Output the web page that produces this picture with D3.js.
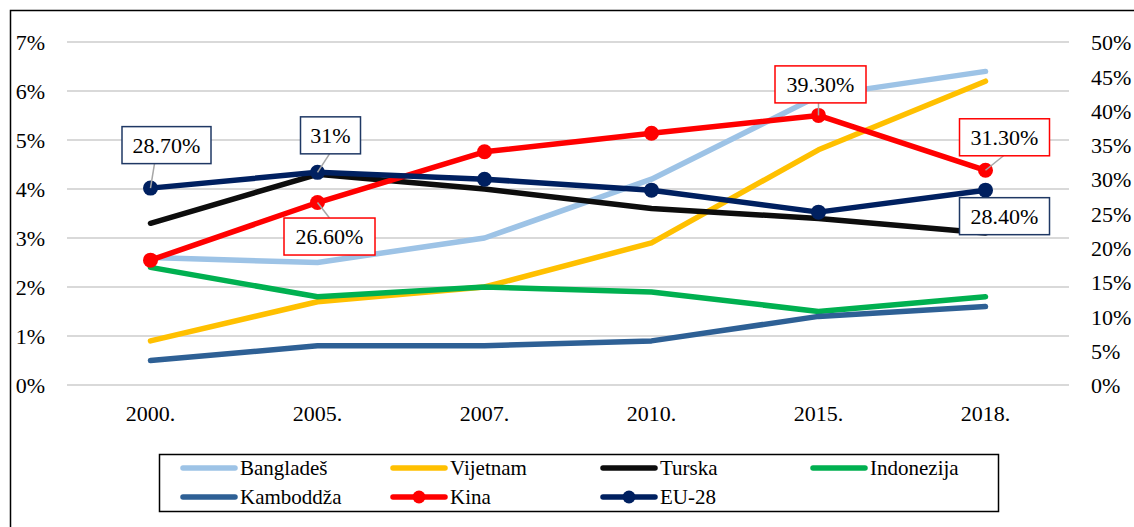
<!DOCTYPE html>
<html><head><meta charset="utf-8">
<script src="https://cdn.jsdelivr.net/npm/d3@7/dist/d3.min.js"></script>
<style>body{margin:0;background:#fff}svg{display:block}</style>
</head><body><svg id="c" width="1134" height="527"></svg>
<script>
const years = ["2000.","2005.","2007.","2010.","2015.","2018."];
const leftTicks = [0,0.01,0.02,0.03,0.04,0.05,0.06,0.07];
const rightTicks = [0,0.05,0.10,0.15,0.20,0.25,0.30,0.35,0.40,0.45,0.50];
const bangladesh = [2.6,2.5,3.0,4.2,5.9,6.4];
const vijetnam = [0.9,1.7,2.0,2.9,4.8,6.2];
const turska = [3.3,4.3,4.0,3.6,3.4,3.1];
const indonezija = [2.4,1.8,2.0,1.9,1.5,1.8];
const kambodza = [0.5,0.8,0.8,0.9,1.4,1.6];
const kina = [18.2,26.6,34.0,36.7,39.3,31.3];
const eu28 = [28.7,31.0,30.0,28.4,25.2,28.4];
const kinaLabels = [null,"26.60%",null,null,"39.30%","31.30%"];
const euLabels = ["28.70%","31%",null,null,null,"28.40%"];

const FONT = "'Liberation Serif', 'Times New Roman', serif";
const series = [
  {name:"Bangladeš", values:bangladesh, color:"#9dc3e6", axis:"L", marker:false},
  {name:"Vijetnam", values:vijetnam, color:"#ffc000", axis:"L", marker:false},
  {name:"Turska", values:turska, color:"#0d0d0d", axis:"L", marker:false},
  {name:"Indonezija", values:indonezija, color:"#00b050", axis:"L", marker:false},
  {name:"Kamboddža", values:kambodza, color:"#2e6095", axis:"L", marker:false},
  {name:"Kina", values:kina, color:"#ff0000", axis:"R", marker:true, labels:kinaLabels},
  {name:"EU-28", values:eu28, color:"#002060", axis:"R", marker:true, labels:euLabels}
];

const svg = d3.select("#c");
svg.append("rect").attr("x",10.5).attr("y",10.5).attr("width",1130).attr("height",530)
  .attr("fill","none").attr("stroke","#000").attr("stroke-width",1.5);

const x = d3.scaleBand().domain(years).range([67,1069]).padding(0);
const cx = d => x(d)+x.bandwidth()/2;
const yL = d3.scaleLinear().domain([0,0.07]).range([385,42]);
const yR = d3.scaleLinear().domain([0,0.5]).range([385,42]);

svg.append("g").selectAll("line").data(leftTicks).join("line")
  .attr("x1",67).attr("x2",1069).attr("y1",d=>yL(d)).attr("y2",d=>yL(d))
  .attr("stroke","#d9d9d9").attr("stroke-width",2);

const fmt = d3.format(".0%");
function styleAxis(g, dy){
  g.attr("font-family",null);
  g.select(".domain").remove();
  g.selectAll("text").attr("font-size",22).attr("fill","#000").style("font-family",FONT).attr("dy",dy);
}
styleAxis(svg.append("g").attr("transform","translate(45,0)")
  .call(d3.axisLeft(yL).tickValues(leftTicks).tickFormat(fmt).tickSize(0).tickPadding(0)),"0.35em");
styleAxis(svg.append("g").attr("transform","translate(1091,0)")
  .call(d3.axisRight(yR).tickValues(rightTicks).tickFormat(fmt).tickSize(0).tickPadding(0)),"0.35em");
styleAxis(svg.append("g").attr("transform","translate(0,404)")
  .call(d3.axisBottom(x).tickSize(0).tickPadding(0)),"0.75em");

function yFor(s){ return s.axis==="L" ? (v=>yL(v/100)) : (v=>yR(v/100)); }

series.forEach(s=>{
  const yy = yFor(s);
  const line = d3.line().x((d,i)=>cx(years[i])).y(d=>yy(d));
  svg.append("path").datum(s.values).attr("d",line).attr("fill","none")
    .attr("stroke",s.color).attr("stroke-width",5.5).attr("stroke-linejoin","round").attr("stroke-linecap","round");
  if(s.marker){
    svg.append("g").selectAll("circle").data(s.values).join("circle")
      .attr("cx",(d,i)=>cx(years[i])).attr("cy",d=>yy(d)).attr("r",7.5).attr("fill",s.color);
  }
});

const labelLayout = {
  "Kina": [null,{dx:12,dy:34,w:91,lx:0,lead:true},null,null,{dx:2,dy:-31,w:91,lx:-2,lead:true},{dx:19,dy:-33,w:90,lx:-1,lead:true}],
  "EU-28": [{dx:16,dy:-43,w:89,lx:-12,lead:true},{dx:13,dy:-37,w:60,lx:-1,lead:true},null,null,null,{dx:19,dy:26,w:90,lx:0,lead:false}]
};
const H = 37;
series.filter(s=>s.labels).forEach(s=>{
  const yy = yFor(s);
  s.labels.forEach((lab,i)=>{
    if(!lab) return;
    const L = labelLayout[s.name][i];
    const px = cx(years[i]), py = yy(s.values[i]);
    const bx = px+L.dx, by = py+L.dy;
    if(L.lead){
      const ey = L.dy<0 ? by+H/2 : by-H/2;
      svg.append("line").attr("x1",px).attr("y1",py).attr("x2",bx+L.lx).attr("y2",ey)
        .attr("stroke","#a6a6a6").attr("stroke-width",1.5);
    }
    svg.append("rect").attr("x",bx-L.w/2).attr("y",by-H/2).attr("width",L.w).attr("height",H)
      .attr("fill","#fff").attr("stroke",s.color==="#002060"?"#1f3864":s.color).attr("stroke-width",1.5);
    svg.append("text").attr("x",bx).attr("y",by).attr("dy","0.35em").attr("text-anchor","middle")
      .style("font-family",FONT).attr("font-size",22).attr("fill","#000").text(lab);
  });
});

svg.append("rect").attr("x",159.5).attr("y",454.5).attr("width",839).attr("height",57)
  .attr("fill","#fff").attr("stroke","#000").attr("stroke-width",1.5);
const lg = svg.append("g").selectAll("g").data(series).join("g")
  .attr("transform",(d,i)=>`translate(${183 + (i%4)*210},${468 + Math.floor(i/4)*29})`);
lg.append("line").attr("x1",0).attr("x2",52).attr("y1",0).attr("y2",0)
  .attr("stroke",d=>d.color).attr("stroke-width",5.5).attr("stroke-linecap","round");
lg.filter(d=>d.marker).append("circle").attr("cx",26).attr("cy",0).attr("r",6.5).attr("fill",d=>d.color);
lg.append("text").attr("x",57).attr("y",0).attr("dy","0.35em").style("font-family",FONT)
  .attr("font-size",21).attr("fill","#000").text(d=>d.name);
</script></body></html>
